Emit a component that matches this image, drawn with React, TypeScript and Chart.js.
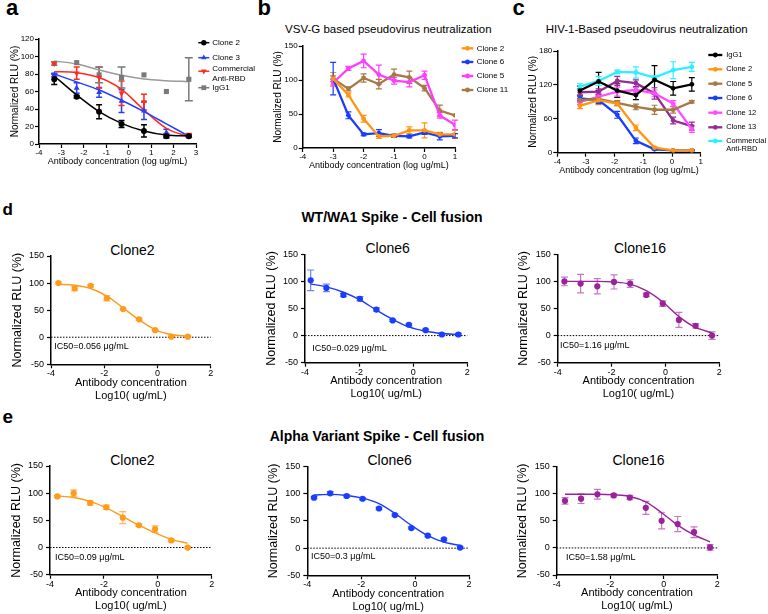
import React, { useEffect, useRef } from "react";
import { Chart, registerables } from "chart.js";

Chart.register(...registerables);

const FONT = "'Liberation Sans', Arial, Helvetica, sans-serif";

// ---------------- Panel a ----------------
const aSeries = ["Clone 2", "Clone 3", "Commercial\nAnti-RBD", "IgG1"];
const aX = [-3.32, -2.32, -1.32, -0.32, 0.68, 1.68, 2.68];
const aClone2 = [74, 54, 37, 23, 15, 9, 9];
const aClone2Err = [6, 1.5, 8, 4, 7, 2, 1.5];
const aClone2Fit = [77.7, 56, 37, 23.6, 14.9, 10.3, 9.1];
const aClone3 = [79, 64, 59, 49, 38, 13, 9];
const aClone3Err = [2, 6, 5.5, 13, 10, 4, 1];
const aClone3Fit = [80, 71, 61.7, 50, 37, 23, 9];
const aComm = [92, 81, 76, 58, 48, 10, 10];
const aCommErr = [2, 7, 12, 14, 9, 2, 2];
const aCommFit = [82.7, 81.5, 76, 62.5, 38.9, 17.9, 8.4];
const aIgG1 = [92, 93, 79, 76, 79, 60, 74];
const aIgG1Err = [0, 0, 9, 12, 0, 0, 24.5];
const aIgG1Fit = [94.9, 91.4, 84.6, 78.5, 74.3, 72.4, 71.2];

// ---------------- Panel b ----------------
const bSeries = ["Clone 2", "Clone 6", "Clone 5", "Clone 11"];
const bX = [-3, -2.5, -2, -1.5, -1, -0.5, 0, 0.5, 1];
const bClone2 = [102, 78, 43, 17, 18, 26, 26, 20, 20];
const bClone2Err = [9, 3, 5, 3, 2, 5, 11, 3, 6];
const bClone6 = [102, 48, 20, 22, 18, 17, 23, 17, 18];
const bClone6Err = [24, 5, 2, 5, 2, 2, 3, 5, 3];
const bClone5 = [96, 117, 128, 108, 99, 97, 107, 48, 34];
const bClone5Err = [5, 3, 10, 14, 5, 7, 6, 4, 7];
const bClone11 = [102, 87, 103, 94, 108, 104, 88, 55, 48];
const bClone11Err = [4, 3, 6, 7, 8, 9, 4, 8, 0];

// ---------------- Panel c ----------------
const cSeries = ["IgG1", "Clone 2", "Clone 5", "Clone 6", "Clone 12", "Clone 13", "Commercial\nAnti-RBD"];
const cX = [-3.21, -2.56, -1.91, -1.26, -0.61, 0.04, 0.69];
const cIgG1 = [110, 126, 110, 102, 129, 114, 121];
const cIgG1Err = [8, 16, 12, 8, 25, 12, 12];
const cClone2 = [83, 93, 87, 44, 9, 4, 4];
const cClone2Err = [5, 8, 4, 5, 2, 1, 1];
const cClone5 = [93, 95, 88, 81, 76, 76, 90];
const cClone5Err = [3, 6, 4, 5, 8, 6, 2];
const cClone6 = [96, 93, 67, 21, 6, 4, 4];
const cClone6Err = [4, 6, 6, 5, 1, 1, 1];
const cClone12 = [90, 99, 108, 111, 105, 87, 42];
const cClone12Err = [5, 6, 8, 5, 6, 5, 6];
const cClone13 = [107, 108, 127, 123, 105, 57, 47];
const cClone13Err = [6, 5, 8, 6, 10, 6, 7];
const cComm = [117, 127, 143, 142, 133, 146, 152];
const cCommErr = [5, 8, 3, 10, 3, 15, 8];

// ---------------- Panel d (WT/WA1 Spike - Cell fusion) ----------------
const d1X = [-3.72, -3.11, -2.51, -1.9, -1.29, -0.69, -0.09, 0.52, 1.14];
const d1Y = [100, 90, 95, 72, 52, 33, 13, 1, 1];
const d1Err = [2, 4, 2, 5, 2, 2, 1, 1, 1];
const d1Fit = [98, 96, 90, 76, 54, 32, 14, 5, 2];

const d2X = [-3.79, -3.21, -2.58, -1.97, -1.36, -0.76, -0.16, 0.46, 1.06, 1.67];
const d2Y = [102, 88, 75, 68, 48, 28, 20, 10, 2, 2];
const d2Err = [19, 7, 3, 4, 3, 2, 2, 2, 2, 2];
const d2Fit = [95, 90, 80, 66, 47, 30, 16, 8, 4, 2];

const d3X = [-3.75, -3.15, -2.53, -1.91, -1.31, -0.71, -0.1, 0.5, 1.12, 1.73];
const d3Y = [100, 96, 91, 99, 96, 75, 59, 29, 18, 0];
const d3Err = [8, 17, 14, 13, 7, 3, 5, 14, 4, 7];
const d3Fit = [100, 100, 100, 99, 95, 83, 62, 35, 15, 5];

// ---------------- Panel e (Alpha Variant Spike - Cell fusion) ----------------
const e1X = [-3.73, -3.12, -2.51, -1.91, -1.3, -0.7, -0.1, 0.5, 1.11];
const e1Y = [94, 100, 82, 74, 55, 41, 34, 13, 0];
const e1Err = [2, 6, 4, 4, 11, 2, 6, 2, 2];
const e1Fit = [95, 92, 85, 73, 57, 41, 27, 15, 8];

const e2X = [-3.75, -3.15, -2.54, -1.95, -1.34, -0.75, -0.14, 0.47, 1.07, 1.67];
const e2Y = [93, 101, 96, 91, 73, 61, 37, 23, 16, 1];
const e2Err = [2, 3, 2, 2, 2, 2, 2, 2, 2, 2];
const e2Fit = [98, 99, 97, 92, 82, 64, 42, 23, 11, 5];

const e3X = [-3.69, -3.09, -2.48, -1.87, -1.27, -0.67, -0.08, 0.52, 1.13, 1.73];
const e3Y = [87, 91, 99, 97, 93, 74, 50, 44, 29, 1];
const e3Err = [6, 9, 9, 3, 4, 12, 15, 14, 10, 5];
const e3Fit = [99, 99, 99, 98, 95, 85, 65, 42, 24, 11];

const fusionTitles = ["Clone2", "Clone6", "Clone16"];
const ic50Labels = ["IC50=0.056 μg/mL", "IC50=0.029 μg/mL", "IC50=1.16 μg/mL"];
const ic50LabelsAlpha = ["IC50=0.09 μg/mL", "IC50=0.3 μg/mL", "IC50=1.58 μg/mL"];

// ---------------- colours ----------------
const BLACK = "#000000";
const A_BLUE = "#2340ff";
const A_RED = "#ff2b1c";
const A_GRAY = "#7a7a7a";
const A_GRAY_FIT = "#9a9a9a";
const ORANGE = "#ff9510";
const BLUE = "#1a3cff";
const MAGENTA = "#ff3dff";
const BROWN = "#a67a45";
const PURPLE = "#952c95";
const PINK = "#ff4cff";
const CYAN = "#2cf0ff";
const F_ORANGE = "#ff9a1c";
const F_ORANGE_ERR = "#ffb860";
const F_BLUE = "#1b3dff";
const F_BLUE_ERR = "#6d83ff";
const F_PURPLE = "#9b229b";
const F_PURPLE_ERR = "#c17ac1";

// ---------------- helpers ----------------
const pts = (xs: number[], ys: number[]) => xs.map((x, i) => ({ x, y: ys[i] }));

function pointDs(label: string, xs: number[], ys: number[], errs: number[], color: string, extra: any = {}) {
  return {
    label,
    data: pts(xs, ys),
    errors: errs,
    errorColor: color,
    showLine: false,
    pointStyle: "circle",
    pointRadius: 3,
    pointBorderWidth: 0,
    backgroundColor: color,
    borderColor: color,
    ...extra,
  };
}

function curveDs(xs: number[], ys: number[], color: string, width: number) {
  return {
    label: "",
    data: pts(xs, ys),
    showLine: true,
    pointRadius: 0,
    borderColor: color,
    backgroundColor: color,
    borderWidth: width,
    cubicInterpolationMode: "monotone",
    fill: false,
  };
}

function lineDs(label: string, xs: number[], ys: number[], errs: number[], color: string) {
  return {
    label,
    data: pts(xs, ys),
    errors: errs,
    errorColor: color,
    showLine: true,
    pointStyle: "circle",
    pointRadius: 2.4,
    pointBorderWidth: 0,
    borderWidth: 2.3,
    backgroundColor: color,
    borderColor: color,
    tension: 0,
  };
}

function drawMarker(ctx: CanvasRenderingContext2D, style: string, x: number, y: number, r: number, rot: number, color: string) {
  ctx.save();
  ctx.fillStyle = color;
  ctx.beginPath();
  if (style === "circle") {
    ctx.arc(x, y, r, 0, Math.PI * 2);
  } else if (style === "rect") {
    const s = r * Math.SQRT1_2;
    ctx.rect(x - s, y - s, 2 * s, 2 * s);
  } else if (style === "triangle") {
    const base = (rot * Math.PI) / 180;
    for (let k = 0; k < 3; k++) {
      const ang = base - Math.PI / 2 + (k * 2 * Math.PI) / 3;
      const px = x + r * Math.cos(ang);
      const py = y + r * Math.sin(ang);
      if (k === 0) ctx.moveTo(px, py);
      else ctx.lineTo(px, py);
    }
    ctx.closePath();
  }
  ctx.fill();
  ctx.restore();
}

const errorBarPlugin = {
  id: "errbars",
  beforeDatasetsDraw(chart: any) {
    const ctx = chart.ctx;
    const yScale = chart.scales.y;
    chart.data.datasets.forEach((ds: any, i: number) => {
      if (!ds.errors) return;
      const meta = chart.getDatasetMeta(i);
      ctx.save();
      ctx.strokeStyle = ds.errorColor || ds.borderColor;
      ctx.lineWidth = ds.errorWidth || 1.2;
      const c = ds.capHalf ?? 3;
      meta.data.forEach((el: any, j: number) => {
        const e = ds.errors[j];
        if (!e) return;
        const v = ds.data[j].y;
        const y1 = yScale.getPixelForValue(v + e);
        const y2 = yScale.getPixelForValue(v - e);
        const x = el.x;
        ctx.beginPath();
        ctx.moveTo(x, y1);
        ctx.lineTo(x, y2);
        ctx.moveTo(x - c, y1);
        ctx.lineTo(x + c, y1);
        ctx.moveTo(x - c, y2);
        ctx.lineTo(x + c, y2);
        ctx.stroke();
      });
      ctx.restore();
    });
  },
};

function makeLegendPlugin(leg: any, offX: number, offY: number) {
  return {
    id: "lineLegend",
    afterDraw(chart: any) {
      const ctx = chart.ctx;
      ctx.save();
      ctx.font = `${leg.size}px ${FONT}`;
      ctx.textBaseline = "middle";
      leg.items.forEach((it: any, k: number) => {
        const y = leg.ys[k] - offY;
        const my = y + (it.markDy || 0);
        const x0 = leg.x0 - offX;
        const x1 = leg.x1 - offX;
        ctx.strokeStyle = it.color;
        ctx.lineWidth = leg.lineWidth;
        ctx.beginPath();
        ctx.moveTo(x0, my);
        ctx.lineTo(x1, my);
        ctx.stroke();
        drawMarker(ctx, it.style, (x0 + x1) / 2, my, it.r, it.rot || 0, it.color);
        ctx.fillStyle = "#000";
        it.text.split("\n").forEach((t: string, li: number) => {
          ctx.fillText(t, leg.tx - offX, y + li * leg.lineGap);
        });
      });
      ctx.restore();
    },
  };
}

function makeExtrasPlugin(spec: any) {
  return {
    id: "extras",
    beforeDatasetsDraw(chart: any) {
      if (!spec.zeroLine) return;
      const { ctx, chartArea } = chart;
      const y = chart.scales.y.getPixelForValue(0);
      ctx.save();
      ctx.strokeStyle = "#000";
      ctx.lineWidth = 1;
      ctx.setLineDash([1.5, 1.5]);
      ctx.beginPath();
      ctx.moveTo(chartArea.left, y);
      ctx.lineTo(chartArea.right, y);
      ctx.stroke();
      ctx.restore();
    },
    afterDraw(chart: any) {
      if (!spec.ic50) return;
      const { ctx, chartArea } = chart;
      const y = chart.scales.y.getPixelForValue(0);
      ctx.save();
      ctx.font = `${spec.ic50.size}px ${FONT}`;
      ctx.fillStyle = "#000";
      ctx.textBaseline = "middle";
      ctx.fillText(spec.ic50.text, chartArea.left + spec.ic50.dx, y + spec.ic50.dy);
      ctx.restore();
    },
  };
}

function Panel({ spec }: { spec: any }) {
  const ref = useRef<HTMLCanvasElement | null>(null);
  const left = Math.floor(spec.plot.l - spec.m.l);
  const top = Math.floor(spec.plot.t - spec.m.t);
  const right = Math.min(768, Math.ceil(spec.plot.r + spec.m.r));
  const bottom = Math.ceil(spec.plot.b + spec.m.b);
  const W = right - left;
  const H = bottom - top;

  useEffect(() => {
    const ml = spec.plot.l - left;
    const mt = spec.plot.t - top;
    const mr = right - spec.plot.r;
    const mb = bottom - spec.plot.b;
    const plugins: any[] = [errorBarPlugin];
    if (spec.legend) plugins.push(makeLegendPlugin(spec.legend, left, top));
    if (spec.zeroLine || spec.ic50) plugins.push(makeExtrasPlugin(spec));
    const grid = {
      display: true,
      drawOnChartArea: false,
      drawTicks: true,
      tickLength: 4,
      tickWidth: 1.2,
      tickColor: "#000",
      color: "#000",
    };
    const border = { display: true, color: "#000", width: 1.5 };
    const chart = new Chart(ref.current as HTMLCanvasElement, {
      type: "scatter",
      data: { datasets: spec.datasets },
      options: {
        animation: false,
        responsive: false,
        devicePixelRatio: 1,
        events: [],
        layout: { padding: { left: 0, top: mt, right: mr, bottom: 0 } },
        plugins: {
          legend: { display: false },
          tooltip: { enabled: false },
          title: { display: false },
        },
        scales: {
          x: {
            type: "linear",
            min: spec.x.min,
            max: spec.x.max,
            afterFit: (s: any) => {
              s.height = mb;
            },
            ticks: {
              stepSize: spec.x.step,
              color: "#000",
              font: { family: FONT, size: spec.tickSize },
              padding: 0,
              maxRotation: 0,
              autoSkip: false,
            },
            grid,
            border,
            title: {
              display: true,
              text: spec.xTitle,
              color: "#000",
              font: { family: FONT, size: spec.xTitleSize, lineHeight: spec.xTitleLH },
              padding: { top: 0, bottom: spec.xTitlePB },
            },
          },
          y: {
            type: "linear",
            min: spec.y.min,
            max: spec.y.max,
            afterFit: (s: any) => {
              s.width = ml;
            },
            ticks: {
              stepSize: spec.y.step,
              color: "#000",
              font: { family: FONT, size: spec.tickSize },
              padding: spec.yTickPad,
              autoSkip: false,
            },
            grid,
            border,
            title: {
              display: true,
              text: spec.yTitle,
              color: "#000",
              font: { family: FONT, size: spec.yTitleSize, lineHeight: 1.2 },
              padding: { top: spec.yTitlePT, bottom: 0 },
            },
          },
        },
      } as any,
      plugins,
    } as any);
    return () => chart.destroy();
  }, []);

  return (
    <canvas
      ref={ref}
      width={W}
      height={H}
      style={{ position: "absolute", left, top, width: W, height: H, display: "block" }}
    />
  );
}

function Txt({ x, y, size, bold, children, center }: any) {
  return (
    <div
      style={{
        position: "absolute",
        left: x,
        top: y,
        fontSize: size,
        lineHeight: 1,
        fontWeight: bold ? "bold" : "normal",
        fontFamily: FONT,
        whiteSpace: "nowrap",
        color: "#000",
        transform: center ? "translate(-50%, -50%)" : undefined,
      }}
    >
      {children}
    </div>
  );
}

const TOP_COMMON = {
  tickSize: 8,
  xTitle: "Antibody concentration (log ug/mL)",
  xTitleSize: 9,
  xTitleLH: 1.2,
  xTitlePB: 2.6,
  yTitle: "Normalized RLU (%)",
  yTitleSize: 10,
  yTitlePT: 2,
  yTickPad: 1,
};

const FUSION_COMMON = {
  tickSize: 9,
  xTitle: ["Antibody concentration", "Log10( ug/mL)"],
  xTitleSize: 11,
  xTitleLH: 1.1,
  xTitlePB: 1.45,
  yTitle: "Normalized RLU (%)",
  yTitleSize: 12.5,
  yTitlePT: 1.5,
  yTickPad: 3,
  x: { min: -4, max: 2, step: 2 },
  y: { min: -50, max: 150, step: 50 },
  zeroLine: true,
};

function fusionSpec(plot: any, xs: number[], ys: number[], errs: number[], fit: number[], color: string, errColor: string, label: string, ic: any) {
  return {
    ...FUSION_COMMON,
    plot,
    m: { l: 42, t: 10, r: 12, b: 38 },
    datasets: [
      pointDs(label, xs, ys, errs, color, { errorColor: errColor, capHalf: 3.5, pointRadius: 3.1 }),
      curveDs(xs, fit, color, 1.4),
    ],
    ic50: ic,
  };
}

export default function App() {
  const specA = {
    ...TOP_COMMON,
    plot: { l: 39, t: 39, r: 196, b: 144 },
    m: { l: 32, t: 10, r: 70, b: 26 },
    x: { min: -4, max: 3, step: 1 },
    y: { min: 0, max: 120, step: 20 },
    datasets: [
      pointDs(aSeries[0], aX, aClone2, aClone2Err, BLACK, { pointRadius: 3, errorWidth: 1.5 }),
      pointDs(aSeries[1], aX, aClone3, aClone3Err, A_BLUE, { pointStyle: "triangle", pointRadius: 3.4, errorWidth: 1.5 }),
      pointDs(aSeries[2], aX, aComm, aCommErr, A_RED, { pointStyle: "triangle", pointRotation: 180, pointRadius: 3.4, errorWidth: 1.5 }),
      pointDs(aSeries[3], aX, aIgG1, aIgG1Err, A_GRAY, { pointStyle: "rect", pointRadius: 3.6, errorWidth: 1.5, capHalf: 4 }),
      curveDs(aX, aClone2Fit, BLACK, 1.5),
      curveDs(aX, aClone3Fit, A_BLUE, 1.5),
      curveDs(aX, aCommFit, A_RED, 1.5),
      curveDs(aX, aIgG1Fit, A_GRAY_FIT, 1.5),
    ],
    legend: {
      x0: 198.3,
      x1: 209.3,
      tx: 212.3,
      ys: [42.7, 57.7, 68.7, 87.7],
      size: 8,
      lineGap: 10,
      lineWidth: 1.5,
      items: [
        { text: aSeries[0], color: BLACK, style: "circle", r: 2.7 },
        { text: aSeries[1], color: A_BLUE, style: "triangle", r: 3.2 },
        { text: aSeries[2], color: A_RED, style: "triangle", rot: 180, r: 3.2, markDy: 2.5 },
        { text: aSeries[3], color: A_GRAY, style: "rect", r: 3.4 },
      ],
    },
  };

  const specB = {
    ...TOP_COMMON,
    plot: { l: 302.7, t: 46, r: 455, b: 148 },
    m: { l: 32, t: 10, r: 60, b: 26 },
    x: { min: -4, max: 1, step: 1 },
    y: { min: 0, max: 150, step: 50 },
    datasets: [
      lineDs(bSeries[0], bX, bClone2, bClone2Err, ORANGE),
      lineDs(bSeries[1], bX, bClone6, bClone6Err, BLUE),
      lineDs(bSeries[2], bX, bClone5, bClone5Err, MAGENTA),
      lineDs(bSeries[3], bX, bClone11, bClone11Err, BROWN),
    ],
    legend: {
      x0: 461.7,
      x1: 473.3,
      tx: 476.7,
      ys: [48.3, 62, 76, 90],
      size: 8,
      lineGap: 9,
      lineWidth: 2.3,
      items: [
        { text: bSeries[0], color: ORANGE, style: "circle", r: 2.4 },
        { text: bSeries[1], color: BLUE, style: "circle", r: 2.4 },
        { text: bSeries[2], color: MAGENTA, style: "circle", r: 2.4 },
        { text: bSeries[3], color: BROWN, style: "circle", r: 2.4 },
      ],
    },
  };

  const cColors = [BLACK, ORANGE, BROWN, BLUE, PINK, PURPLE, CYAN];
  const specC = {
    ...TOP_COMMON,
    plot: { l: 557.3, t: 51, r: 700.7, b: 152.7 },
    m: { l: 32, t: 10, r: 67, b: 26 },
    x: { min: -4, max: 1, step: 1 },
    y: { min: 0, max: 180, step: 60 },
    datasets: [
      lineDs(cSeries[0], cX, cIgG1, cIgG1Err, BLACK),
      lineDs(cSeries[1], cX, cClone2, cClone2Err, ORANGE),
      lineDs(cSeries[2], cX, cClone5, cClone5Err, BROWN),
      lineDs(cSeries[3], cX, cClone6, cClone6Err, BLUE),
      lineDs(cSeries[4], cX, cClone12, cClone12Err, PINK),
      lineDs(cSeries[5], cX, cClone13, cClone13Err, PURPLE),
      lineDs(cSeries[6], cX, cComm, cCommErr, CYAN),
    ],
    legend: {
      x0: 708.3,
      x1: 722.3,
      tx: 726.2,
      ys: [55, 69.3, 83.7, 98, 112.7, 127.3, 141],
      size: 7.5,
      lineGap: 8.3,
      lineWidth: 2.3,
      items: cSeries.map((s, i) => ({ text: s, color: cColors[i], style: "circle", r: 2.4 })),
    },
  };

  const specD1 = fusionSpec({ l: 51, t: 256, r: 210.7, b: 364.3 }, d1X, d1Y, d1Err, d1Fit, F_ORANGE, F_ORANGE_ERR, fusionTitles[0], { text: ic50Labels[0], dx: 3.3, dy: 9.4, size: 9 });
  const specD2 = fusionSpec({ l: 305, t: 254.3, r: 467.3, b: 362.7 }, d2X, d2Y, d2Err, d2Fit, F_BLUE, F_BLUE_ERR, fusionTitles[1], { text: ic50Labels[1], dx: 7.3, dy: 13, size: 9 });
  const specD3 = fusionSpec({ l: 557.7, t: 254.3, r: 719.3, b: 362.7 }, d3X, d3Y, d3Err, d3Fit, F_PURPLE, F_PURPLE_ERR, fusionTitles[2], { text: ic50Labels[2], dx: 2.3, dy: 10.4, size: 9 });
  const specE1 = fusionSpec({ l: 50, t: 466, r: 211.7, b: 574.7 }, e1X, e1Y, e1Err, e1Fit, F_ORANGE, F_ORANGE_ERR, fusionTitles[0], { text: ic50LabelsAlpha[0], dx: 5, dy: 10, size: 9 });
  const specE2 = fusionSpec({ l: 307.3, t: 466.7, r: 469, b: 575.3 }, e2X, e2Y, e2Err, e2Fit, F_BLUE, F_BLUE_ERR, fusionTitles[1], { text: ic50LabelsAlpha[1], dx: 3.7, dy: 8.7, size: 9 });
  const specE3 = fusionSpec({ l: 556.7, t: 466.7, r: 717.3, b: 575 }, e3X, e3Y, e3Err, e3Fit, F_PURPLE, F_PURPLE_ERR, fusionTitles[2], { text: ic50LabelsAlpha[2], dx: 9.3, dy: 9.7, size: 9 });

  const fusion = [specD1, specD2, specD3, specE1, specE2, specE3];

  return (
    <div
      style={{
        position: "absolute",
        left: 0,
        top: 0,
        width: 768,
        height: 614,
        overflow: "hidden",
        background: "#fff",
        fontFamily: FONT,
      }}
    >
      <Txt x={6} y={-3} size={22} bold>a</Txt>
      <Txt x={257.5} y={-3} size={22} bold>b</Txt>
      <Txt x={512.5} y={-3} size={22} bold>c</Txt>
      <Txt x={2.5} y={200.6} size={17} bold>d</Txt>
      <Txt x={2.5} y={407.2} size={19} bold>e</Txt>

      <Txt x={388.3} y={30} size={11.5} center>VSV-G based pseudovirus neutralization</Txt>
      <Txt x={646.7} y={29.7} size={11.5} center>HIV-1-Based pseudovirus neutralization</Txt>

      <Txt x={392} y={217} size={14} bold center>WT/WA1 Spike - Cell fusion</Txt>
      <Txt x={377} y={436} size={14} bold center>Alpha Variant Spike - Cell fusion</Txt>

      {fusion.map((s, i) => (
        <Txt key={i} x={(s.plot.l + s.plot.r) / 2 + 1.5} y={s.plot.t - 6.5} size={14} center>
          {fusionTitles[i % 3]}
        </Txt>
      ))}

      <Panel spec={specA} />
      <Panel spec={specB} />
      <Panel spec={specC} />
      {fusion.map((s, i) => (
        <Panel key={"p" + i} spec={s} />
      ))}
    </div>
  );
}
